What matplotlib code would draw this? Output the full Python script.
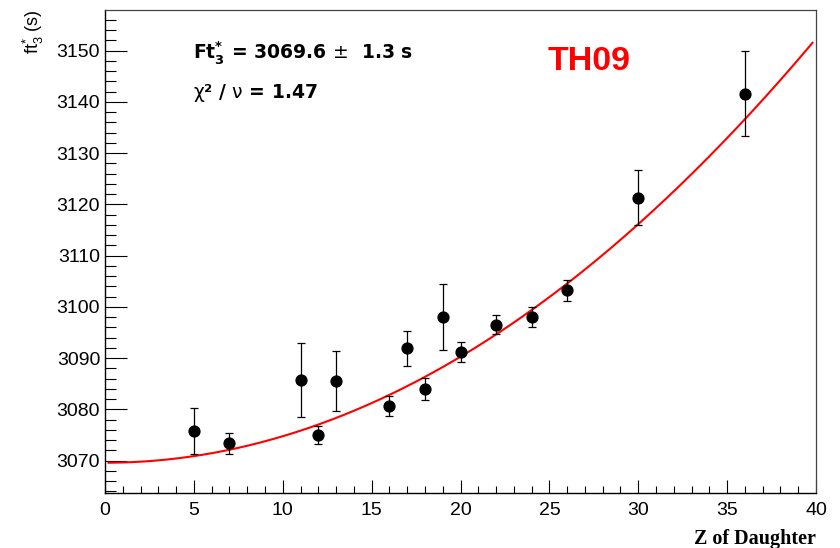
import numpy as np
import matplotlib
matplotlib.use("Agg")
import matplotlib.pyplot as plt
from matplotlib.ticker import MultipleLocator

# data
z_daughter = [5, 7, 11, 12, 13, 16, 17, 18, 19, 20, 22, 24, 26, 30, 36]
ft_values = [3075.8, 3073.4, 3085.8, 3075.0, 3085.5, 3080.7, 3091.9, 3084.0,
             3098.0, 3091.2, 3096.5, 3098.0, 3103.2, 3121.3, 3141.6]
ft_errors = [4.4, 2.0, 7.2, 1.8, 5.9, 1.95, 3.35, 2.1,
             6.4, 2.0, 1.85, 1.95, 2.1, 5.3, 8.25]

# fit curve parameters (ft = a + b*Z + c*Z^2)
fit_a = 3069.6
fit_b = 0.0
fit_c = 0.0517
fit_range = (0.2, 39.8)

plt.rcParams['font.family'] = ['Liberation Sans', 'DejaVu Sans']
plt.rcParams['mathtext.fontset'] = 'custom'
plt.rcParams['mathtext.rm'] = 'Liberation Sans'
plt.rcParams['mathtext.it'] = 'Liberation Sans:italic'
plt.rcParams['mathtext.bf'] = 'Liberation Sans:bold'

fig = plt.figure(figsize=(8.4, 5.48), dpi=100)
ax = fig.add_axes([105 / 840, 55 / 548, 711 / 840, 483 / 548])

zz = np.linspace(fit_range[0], fit_range[1], 300)
ax.plot(zz, fit_a + fit_b * zz + fit_c * zz ** 2, color='red', lw=1.5, zorder=3)

ax.errorbar(z_daughter, ft_values, yerr=ft_errors, fmt='o', color='black',
            ms=7.8, elinewidth=0.9, capsize=3, capthick=0.9, zorder=4)

ax.set_xlim(0, 40)
ax.set_ylim(3063.7, 3157.9)
ax.xaxis.set_major_locator(MultipleLocator(5))
ax.xaxis.set_minor_locator(MultipleLocator(1))
ax.yaxis.set_major_locator(MultipleLocator(10))
ax.yaxis.set_minor_locator(MultipleLocator(2))

ax.tick_params(axis='both', which='both', direction='in', top=False, right=False,
               color='black', width=0.8, labelsize=14)
ax.tick_params(axis='x', which='major', length=9.4, pad=6.5)
ax.tick_params(axis='x', which='minor', length=4.7)
ax.tick_params(axis='y', which='major', length=15.8, pad=3.5)
ax.tick_params(axis='y', which='minor', length=7.9)

for side in ['left', 'bottom']:
    ax.spines[side].set_linewidth(1.0)
    ax.spines[side].set_color('black')
for side in ['top', 'right']:
    ax.spines[side].set_linewidth(0.9)
    ax.spines[side].set_color('#444444')

# axis titles, ROOT style
fig.text(816 / 840, 1 - 544 / 548, 'Z of Daughter', ha='right', va='baseline',
         fontsize=14.5, fontweight='bold', family='Liberation Serif')
fig.text(33 / 840, 1 - 9 / 548, r'ft$_{3}^{*}$ (s)', rotation=90,
         ha='center', va='top', fontsize=13)

# annotations
fig.text(193 / 840, 1 - 58 / 548, r'Ft$_{\mathbf{3}}^{\mathbf{*}}$ = 3069.6 $\pm$  1.3 s',
         ha='left', va='baseline', fontsize=13.5, fontweight='bold',
         family='DejaVu Sans', math_fontfamily='dejavusans')
fig.text(193 / 840, 1 - 98 / 548, r'$\mathrm{\chi}$² / $\mathrm{\nu}$ = 1.47',
         ha='left', va='baseline', fontsize=13.5, fontweight='bold',
         family='DejaVu Sans', math_fontfamily='dejavusans')
fig.text(548 / 840, 1 - 70 / 548, 'TH09', ha='left', va='baseline',
         fontsize=24.5, fontweight='bold', color='red')

fig.savefig('out.png', dpi=100)
